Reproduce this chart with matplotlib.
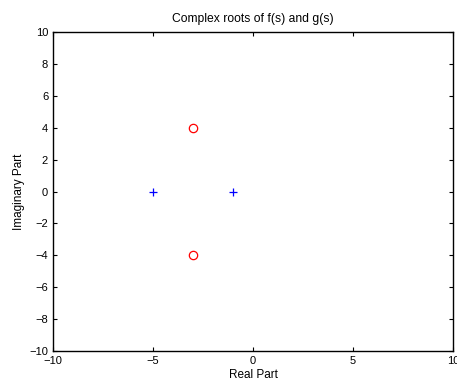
import matplotlib
matplotlib.use("Agg")
import matplotlib.pyplot as plt

# roots of f(s) (plus) and g(s) (circles)
f_re = [-5, -1]
f_im = [0, 0]
g_re = [-3, -3]
g_im = [4, -4]

xticks = [-10, -5, 0, 5, 10]
yticks = [-10, -8, -6, -4, -2, 0, 2, 4, 6, 8, 10]

plt.rcParams['font.family'] = ['Liberation Sans', 'DejaVu Sans']
plt.rcParams['font.size'] = 8

fig = plt.figure(figsize=(4.57, 3.81), dpi=100)
ax = fig.add_axes([0.116, 0.0787, 0.875, 0.8373])

ax.plot(f_re, f_im, '+', color='blue', markersize=6, markeredgewidth=0.9)
ax.plot(g_re, g_im, 'o', color='red', markerfacecolor='none', markersize=6, markeredgewidth=0.9)

ax.set_xlim(-10, 10)
ax.set_ylim(-10, 10)
ax.set_xticks(xticks)
ax.set_yticks(yticks)
ax.set_xticklabels([str(t).replace('-', '\u2212') for t in xticks])
ax.set_yticklabels([str(t).replace('-', '\u2212') for t in yticks])
ax.tick_params(direction='in', top=True, right=True, length=3, width=0.8, pad=3.5)
for s in ax.spines.values():
    s.set_linewidth(1.0)

ax.set_title('Complex roots of f(s) and g(s)', fontsize=8.7, pad=7.5)
ax.set_xlabel('Real Part', fontsize=8.5, labelpad=2.5)
ax.set_ylabel('Imaginary Part', fontsize=8.5, labelpad=3)

fig.savefig('out.png', dpi=100)
